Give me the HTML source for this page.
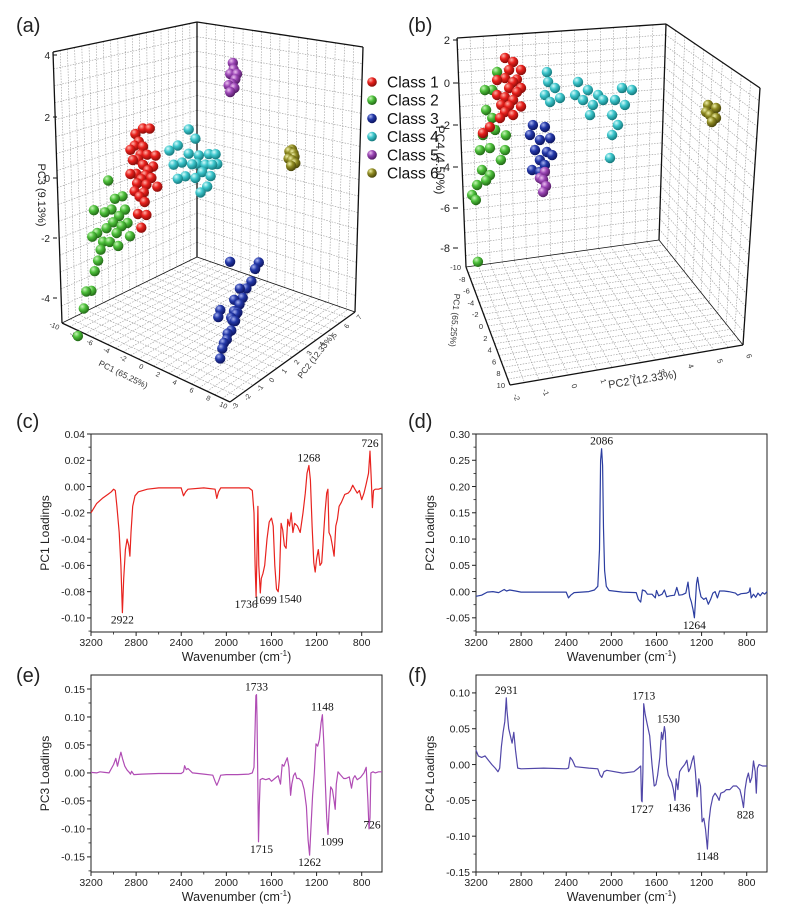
<!DOCTYPE html>
<html><head><meta charset="utf-8">
<style>
html,body{margin:0;padding:0;background:#fff;}
svg{display:block;font-family:"Liberation Sans",Arial,sans-serif;}
.tk{font-size:10.5px;fill:#222;}
.ann{font-family:"Liberation Serif",serif;font-size:11.5px;fill:#111;}
</style></head>
<body>
<svg id="fig" width="800" height="913" viewBox="0 0 800 913" xmlns="http://www.w3.org/2000/svg">
<defs>
 <radialGradient id="g1" cx="35%" cy="30%" r="70%"><stop offset="0" stop-color="#ffb0a8"/><stop offset="0.45" stop-color="#e8201c"/><stop offset="1" stop-color="#8a0d0a"/></radialGradient>
 <radialGradient id="g2" cx="35%" cy="30%" r="70%"><stop offset="0" stop-color="#c8f5b8"/><stop offset="0.45" stop-color="#4cbf3a"/><stop offset="1" stop-color="#236a17"/></radialGradient>
 <radialGradient id="g3" cx="35%" cy="30%" r="70%"><stop offset="0" stop-color="#a9b4f0"/><stop offset="0.45" stop-color="#2338a8"/><stop offset="1" stop-color="#0d1560"/></radialGradient>
 <radialGradient id="g4" cx="35%" cy="30%" r="70%"><stop offset="0" stop-color="#d5fbfb"/><stop offset="0.45" stop-color="#3cc6cc"/><stop offset="1" stop-color="#16797d"/></radialGradient>
 <radialGradient id="g5" cx="35%" cy="30%" r="70%"><stop offset="0" stop-color="#ecc0f0"/><stop offset="0.45" stop-color="#9a45b4"/><stop offset="1" stop-color="#541c66"/></radialGradient>
 <radialGradient id="g6" cx="35%" cy="30%" r="70%"><stop offset="0" stop-color="#f0f0a8"/><stop offset="0.45" stop-color="#8e8a22"/><stop offset="1" stop-color="#4a460a"/></radialGradient>
</defs>
<g id="layer3d"></g>
<g id="layerSpec"></g>
</svg>
<script>
// ================= DATA: 3D scores panel (a) [PC1, PC2, PC3] =================
const classNames = ["Class 1","Class 2","Class 3","Class 4","Class 5","Class 6"];
const aClass1 = [[-6,0,0.8],[-5.5,0,1.0],[-5,0,0.9],[-4.5,0,0.7],[-6.2,0,0.3],[-5.6,0,0.4],[-5,0,0.3],[-4.4,0,0.2],[-3.8,0,0.4],[-6.5,0,-0.2],[-5.8,0,-0.1],[-5.2,0,-0.2],[-4.6,0,-0.3],[-4,0,0],[-6,0,-0.7],[-5.4,0,-0.8],[-4.8,0,-0.9],[-5.6,0,-1.4],[-5,0,1.5],[-4.2,0,1.6],[-3.5,0,0.8],[-6.5,0,0.6],[-5.2,0,-1.8],[-4.6,0,-1.3],[-3.3,0,-0.2],[-5.9,0,1.2],[-5.3,0,0.6],[-4.7,0,0.0],[-5.7,0,-0.4],[-4.9,0,-0.6]];
const aClass2 = [[-10.5,-1,-4.9],[-10.2,-1,-4.3],[-9.6,-1,-4.2],[-9.2,-1,-3.5],[-8.8,-1,-3.1],[-8.5,-1,-2.7],[-8.9,-1,-2.2],[-8.2,-1,-2.4],[-7.8,-1,-1.9],[-7.4,-1,-2.3],[-7,-1,-1.6],[-6.6,-1,-1.9],[-6.3,-1,-1.3],[-6,-1,-1.6],[-5.6,-1,-1.0],[-5.3,-1,-1.4],[-5.9,-1,-0.6],[-6.8,-1,-0.8],[-7.2,-1,-1.2],[-8,-1,-1.4],[-9.3,-1,-1.5],[-9.5,-1,-2.4],[-7.6,-1,-0.3],[-6.4,-1,-2.3],[-5,-1,-1.8],[-11.2,-1,-5.9]];
const aClass3 = [[4.5,-0.2,-4.8],[3.7,0.6,-4.6],[3.2,0.8,-4.9],[2.9,1.4,-4.6],[2.5,1.6,-4.9],[2.1,2.3,-4.5],[1.8,2.4,-4.9],[1.3,3.1,-4.6],[1.0,3.2,-4.9],[0.45,3.9,-4.6],[0.2,3.9,-4.9],[-0.4,4.7,-4.7],[-0.6,4.6,-4.4],[-1.2,5.5,-4.7],[-2,6.4,-4.8],[-2.8,7.2,-4.7],[-3.6,8,-4.8],[1.8,1.4,-4.2],[-0.2,3.6,-3.2],[0.8,2.2,-4.3],[2.4,2.0,-4.3],[1.5,2.8,-4.4],[0.6,3.4,-4.3]];
const aClass4 = [[-6.5,3,-0.2],[-6,3,-0.6],[-5.5,3,0.1],[-5,3,-0.4],[-4.6,3,-0.8],[-4.2,3,0],[-3.8,3,-0.3],[-3.4,3,-0.7],[-3,3,0.1],[-2.6,3,-0.4],[-2.2,3,-0.1],[-1.8,3,0.3],[-1.4,3,0],[-1,3,0.4],[-2,3,-0.8],[-4.2,3,0.8],[-3.4,3,0.6],[-5.5,3,-1],[-0.8,3,0.1],[-2.8,3,-1.1],[-1.6,3,-0.4],[-3.2,3,-0.2]];
const aClass5 = [[-3.9,6,1.9],[-3.5,6,2.1],[-3.7,6,1.6],[-3.3,6,1.8],[-4.1,6,1.5],[-3.6,6,2.3],[-3.9,6,1.3],[-3.4,6,1.5],[-3.1,6,2.0]];
const aClass6 = [[1.6,7,-0.2],[1.9,7,-0.1],[2.2,7,-0.3],[1.5,7,-0.45],[1.9,7,-0.45],[2.3,7,-0.5],[1.8,7,-0.65],[2.1,7,-0.2]];
// ================= DATA: 3D scores panel (b) [PC1, PC2, PC4] =================
const bClass1 = [[-10,-0.66,0.83],[-10,-0.38,0.57],[-10,-0.11,0.12],[-10,-0.93,-0.17],[-10,-0.66,-0.14],[-10,-0.38,-0.4],[-10,-0.11,-0.75],[-10,-0.93,-0.89],[-10,-0.66,-1.06],[-10,-0.38,-1.26],[-10,-0.11,-1.64],[-10,-0.66,-1.77],[-10,-0.38,-1.98],[-10,-0.83,-2.02],[-10,-0.52,0.22],[-10,-0.25,-0.91],[-10,-0.52,-0.65],[-10,-0.79,-1.4],[-10,-1.42,-2.6],[-10,-1.18,-2.37],[-10,-0.52,-1.5],[-10,-0.25,-0.3]];
const bClass2 = [[-10,-0.93,0.22],[-10,-1.1,-0.6],[-10,-1.31,-1.52],[-10,-1.1,-1.95],[-10,-1.42,-2.7],[-10,-1.0,-2.55],[-10,-1.52,-3.4],[-10,-1.18,-3.38],[-10,-0.63,-2.9],[-10,-0.66,-3.6],[-10,-1.45,-4.37],[-10,-1.18,-4.68],[-10,-1.62,-5.05],[-10,-1.31,-4.9],[-10,-1.79,-5.49],[-10,-1.66,-5.76],[-10,-1.59,-8.75],[-10,-1.35,-0.55],[-10,-0.8,-4.04]];
const bClass3 = [[-10,0.3,-2.63],[-10,0.71,-2.82],[-10,0.54,-3.4],[-10,0.89,-3.4],[-10,0.37,-3.85],[-10,0.78,-4.04],[-10,0.54,-4.37],[-10,0.96,-4.23],[-10,0.27,-4.78],[-10,0.54,-4.94],[-10,0.71,-4.65],[-10,0.2,-3.08]];
const bClass4 = [[-10,0.82,-0.68],[-10,1.06,-1.03],[-10,0.71,-1.28],[-10,1.23,-1.55],[-10,0.89,-1.66],[-10,0.78,-0.2],[-10,1.85,-0.93],[-10,2.19,-1.4],[-10,2.54,-1.72],[-10,2.02,-1.84],[-10,2.36,-2.16],[-10,2.71,-2.0],[-10,2.26,-2.62],[-10,1.75,-1.53],[-10,3.36,-1.58],[-10,3.7,-1.76],[-10,3.12,-2.1],[-10,3.46,-2.42],[-10,3.02,-2.8],[-10,3.22,-3.33],[-10,3.02,-3.76],[-10,2.95,-4.85]];
const bClass5 = [[-10,0.71,-4.98],[-10,0.65,-5.35],[-10,0.75,-5.67],[-10,0.65,-5.93],[-10,0.54,-5.23]];
const bClass6 = [[-10,6.32,-3.11],[-10,6.59,-3.32],[-10,6.38,-3.61],[-10,6.59,-3.8],[-10,6.45,-3.96],[-10,6.25,-3.43]];

// ================= DATA: loading spectra [wavenumber, loading] =================
const wnTicks = [3200,2800,2400,2000,1600,1200,800];
const pc1Ticks = [0.04,0.02,0.00,-0.02,-0.04,-0.06,-0.08,-0.10];
const pc2Ticks = [0.30,0.25,0.20,0.15,0.10,0.05,0.00,-0.05];
const pc3Ticks = [0.15,0.10,0.05,0.00,-0.05,-0.10,-0.15];
const pc4Ticks = [0.10,0.05,0.00,-0.05,-0.10,-0.15];
const pc1Loadings = [[3200,-0.020],[3150,-0.013],[3100,-0.009],[3050,-0.006],[3020,-0.004],[3000,-0.002],[2985,-0.003],[2970,-0.015],[2950,-0.035],[2935,-0.06],[2922,-0.096],[2910,-0.07],[2895,-0.048],[2880,-0.040],[2865,-0.045],[2855,-0.053],[2845,-0.035],[2830,-0.015],[2810,-0.007],[2780,-0.004],[2700,-0.002],[2600,-0.001],[2400,-0.001],[2380,-0.007],[2360,-0.004],[2340,-0.002],[2200,-0.001],[2100,-0.002],[2085,-0.009],[2070,-0.004],[2050,-0.001],[1800,-0.001],[1770,-0.003],[1755,-0.02],[1745,-0.06],[1736,-0.084],[1728,-0.05],[1720,-0.015],[1712,-0.06],[1699,-0.081],[1690,-0.07],[1675,-0.066],[1660,-0.06],[1640,-0.04],[1620,-0.027],[1600,-0.024],[1585,-0.03],[1570,-0.06],[1555,-0.078],[1540,-0.08],[1530,-0.07],[1515,-0.028],[1500,-0.033],[1485,-0.045],[1470,-0.047],[1455,-0.025],[1440,-0.03],[1425,-0.02],[1410,-0.035],[1395,-0.028],[1370,-0.03],[1345,-0.035],[1320,-0.02],[1300,-0.005],[1285,0.010],[1268,0.016],[1255,0.005],[1240,-0.03],[1225,-0.058],[1212,-0.065],[1200,-0.055],[1185,-0.048],[1170,-0.06],[1155,-0.058],[1140,-0.04],[1125,-0.02],[1110,-0.005],[1100,-0.002],[1090,-0.035],[1075,-0.038],[1060,-0.045],[1045,-0.053],[1030,-0.03],[1015,-0.025],[1000,-0.015],[980,-0.012],[950,-0.006],[920,-0.005],[900,-0.003],[880,0.001],[860,-0.002],[840,-0.005],[820,-0.003],[800,-0.01],[780,-0.005],[760,0.002],[740,0.010],[726,0.027],[715,0.005],[705,-0.016],[695,-0.003],[680,-0.002],[650,-0.002],[620,-0.001]];
const pc2Loadings = [[3200,-0.009],[3150,-0.007],[3100,-0.001],[3050,0.000],[3000,-0.002],[2950,0.004],[2930,0.001],[2900,0.003],[2850,0.001],[2800,-0.001],[2600,-0.001],[2400,-0.001],[2380,-0.012],[2360,-0.007],[2330,-0.002],[2200,0.000],[2150,0.003],[2120,0.01],[2105,0.08],[2095,0.25],[2086,0.272],[2078,0.24],[2070,0.12],[2060,0.04],[2045,0.01],[2020,0.002],[1900,-0.001],[1780,-0.002],[1760,-0.015],[1740,-0.02],[1725,0.003],[1700,0.001],[1680,-0.005],[1640,-0.005],[1610,-0.012],[1600,0.002],[1580,-0.008],[1550,-0.005],[1530,0.003],[1510,-0.01],[1480,-0.008],[1440,-0.007],[1420,0.008],[1400,-0.007],[1370,-0.006],[1340,-0.003],[1320,0.018],[1305,-0.01],[1290,-0.02],[1275,-0.035],[1264,-0.05],[1255,-0.02],[1245,0.015],[1235,0.027],[1220,0.005],[1205,-0.01],[1180,-0.015],[1160,-0.012],[1140,-0.024],[1120,-0.015],[1100,-0.003],[1080,0.000],[1060,-0.012],[1040,0.001],[1000,0.001],[960,0.000],[900,-0.003],[880,-0.007],[850,-0.004],[800,-0.003],[780,-0.001],[770,0.007],[760,-0.012],[740,-0.005],[720,-0.011],[700,-0.003],[680,-0.008],[660,-0.002],[640,-0.005],[620,0.000]];
const pc3Loadings = [[3200,0.001],[3150,0.0],[3120,0.002],[3080,0.001],[3040,0.000],[3000,0.015],[2980,0.026],[2965,0.012],[2950,0.025],[2935,0.037],[2920,0.025],[2900,0.012],[2880,0.005],[2860,0.001],[2850,-0.002],[2840,0.003],[2820,-0.003],[2750,-0.002],[2600,-0.001],[2400,-0.001],[2380,0.002],[2370,0.013],[2355,0.006],[2340,0.008],[2300,0.0],[2200,-0.002],[2120,-0.004],[2100,-0.015],[2085,-0.022],[2070,-0.015],[2050,-0.004],[2000,-0.003],[1900,-0.003],[1800,-0.002],[1770,0.000],[1755,0.01],[1745,0.08],[1738,0.138],[1733,0.14],[1728,0.10],[1722,0.0],[1715,-0.123],[1708,-0.06],[1700,-0.012],[1680,-0.01],[1650,-0.012],[1620,-0.01],[1600,-0.015],[1570,-0.01],[1540,-0.005],[1520,-0.02],[1505,0.015],[1490,0.012],[1475,0.02],[1460,0.027],[1445,0.01],[1430,-0.04],[1420,-0.02],[1405,-0.005],[1390,0.0],[1375,-0.01],[1355,-0.01],[1330,-0.015],[1310,-0.03],[1290,-0.06],[1275,-0.12],[1262,-0.147],[1250,-0.1],[1235,-0.04],[1220,0.0],[1205,0.052],[1190,0.048],[1175,0.06],[1160,0.09],[1148,0.104],[1135,0.05],[1120,-0.03],[1110,-0.08],[1099,-0.11],[1090,-0.07],[1075,-0.025],[1060,-0.03],[1045,-0.05],[1035,-0.065],[1025,-0.02],[1010,0.002],[990,-0.003],[960,-0.01],[940,-0.01],[910,-0.007],[890,-0.027],[875,-0.01],[860,-0.005],[840,-0.012],[810,-0.008],[780,0.0],[760,0.01],[745,-0.05],[735,-0.1],[726,-0.08],[718,0.0],[700,0.002],[680,0.0],[650,0.002],[620,0.002]];
const pc4Loadings = [[3200,0.02],[3180,0.012],[3150,0.01],[3120,0.012],[3090,0.006],[3060,0.0],[3030,-0.005],[3005,-0.01],[2990,-0.005],[2975,0.025],[2960,0.045],[2945,0.06],[2931,0.093],[2925,0.075],[2910,0.05],[2895,0.04],[2880,0.03],[2865,0.045],[2850,0.02],[2830,-0.005],[2800,-0.006],[2600,-0.005],[2400,-0.006],[2380,-0.005],[2365,0.01],[2345,0.006],[2320,-0.003],[2200,-0.005],[2120,-0.006],[2100,-0.015],[2085,-0.018],[2065,-0.01],[2040,-0.008],[1900,-0.012],[1800,-0.01],[1760,-0.005],[1740,-0.002],[1733,-0.05],[1727,-0.052],[1720,-0.01],[1713,0.085],[1700,0.07],[1680,0.055],[1660,0.04],[1640,0.0],[1620,-0.03],[1605,-0.028],[1590,-0.015],[1570,0.01],[1555,0.045],[1545,0.035],[1530,0.053],[1522,0.045],[1510,0.0],[1495,-0.015],[1480,-0.02],[1465,-0.025],[1450,-0.035],[1436,-0.05],[1425,-0.02],[1410,-0.035],[1395,-0.01],[1375,-0.005],[1350,0.0],[1330,0.006],[1315,-0.01],[1300,-0.005],[1285,0.005],[1270,0.012],[1255,-0.01],[1240,-0.045],[1225,-0.02],[1210,-0.03],[1195,-0.08],[1180,-0.075],[1165,-0.09],[1148,-0.118],[1135,-0.08],[1120,-0.06],[1100,-0.045],[1080,-0.04],[1060,-0.045],[1045,-0.05],[1030,-0.04],[1000,-0.038],[980,-0.035],[950,-0.035],[920,-0.03],[890,-0.03],[860,-0.035],[845,-0.045],[828,-0.06],[815,-0.035],[800,-0.02],[785,-0.012],[770,-0.025],[755,-0.018],[740,0.005],[725,-0.01],[715,-0.04],[705,-0.005],[690,0.0],[660,-0.002],[620,-0.002]];
const pc1Peaks = [[2922,"2922"],[1736,"1736"],[1699,"1699"],[1540,"1540"],[1268,"1268"],[726,"726"]];
const pc2Peaks = [[2086,"2086"],[1264,"1264"]];
const pc3Peaks = [[1733,"1733"],[1715,"1715"],[1262,"1262"],[1148,"1148"],[1099,"1099"],[726,"726"]];
const pc4Peaks = [[2931,"2931"],[1713,"1713"],[1530,"1530"],[1727,"1727"],[1436,"1436"],[1148,"1148"],[828,"828"]];

const NS = "http://www.w3.org/2000/svg";
function mk(parent, tag, attrs, text){
  const e = document.createElementNS(NS, tag);
  for (const k in attrs) e.setAttribute(k, attrs[k]);
  if (text !== undefined) e.textContent = text;
  parent.appendChild(e);
  return e;
}
const L3 = document.getElementById('layer3d');
const LS = document.getElementById('layerSpec');

[["(a)",16,32],["(b)",408,32],["(c)",16,428],["(d)",408,428],["(e)",16,682],["(f)",408,682]].forEach(p=>{
  const t = mk(L3,'text',{x:p[1],y:p[2],'font-size':20,fill:'#222'},p[0]);
  
  
});

function lerp(p,q,t){return [p[0]+(q[0]-p[0])*t, p[1]+(q[1]-p[1])*t];}
function wall(parent, c, nu, nv, name){
  const g = mk(parent,'g',{});
  
  
  mk(g,'polygon',{points:c.map(p=>p.join(',')).join(' '),fill:'#fff',stroke:'none'});
  for(let i=1;i<nu;i++){const t=i/nu;const a=lerp(c[0],c[1],t),b=lerp(c[3],c[2],t);
    mk(g,'line',{x1:a[0],y1:a[1],x2:b[0],y2:b[1],stroke:'#9a9a9a','stroke-width':0.6,'stroke-dasharray':'1.5,1.3'});}
  for(let j=1;j<nv;j++){const t=j/nv;const a=lerp(c[0],c[3],t),b=lerp(c[1],c[2],t);
    mk(g,'line',{x1:a[0],y1:a[1],x2:b[0],y2:b[1],stroke:'#9a9a9a','stroke-width':0.6,'stroke-dasharray':'1.5,1.3'});}
  return g;
}
function edge(parent,p,q,w){mk(parent,'line',{x1:p[0],y1:p[1],x2:q[0],y2:q[1],stroke:'#111','stroke-width':w||1.3});}
function spheres(parent, pts, proj, cls, r, panel){
  const g = mk(parent,'g',{});
  
  
  const sc = pts.map(proj).sort((u,v)=>u[1]-v[1]);
  sc.forEach(s=>{
    const c = mk(g,'circle',{cx:s[0].toFixed(1),cy:s[1].toFixed(1),r:r,fill:'url(#g'+(cls+1)+')'});
    
    
  });
}

function projA(p){const a=p[0],b=p[1],c=p[2];
  return [62+(a+10)*8.4+(b+3)*13, 323+(a+10)*3.95-(b+3)*7.8-(c+4.8)*30.3];}
(function(){
  const g = mk(L3,'g',{});
  
  
  const TL=[53,52],TB=[197,22],BB=[197,257],BL=[62,323],TR=[363,47],BR=[355,312],F=[230,402];
  wall(g,[TL,TB,BB,BL],20,16,'panel-a-left-wall');
  wall(g,[TB,TR,BR,BB],18,16,'panel-a-right-wall');
  wall(g,[BL,BB,BR,F],16,22,'panel-a-floor');
  edge(g,TL,TB);edge(g,TB,TR);edge(g,TB,BB);edge(g,TL,BL);edge(g,TR,BR);edge(g,BL,F);edge(g,F,BR);edge(g,BL,BB,0.8);edge(g,BB,BR,0.8);
  const zt=[["4",55],["2",117],["0",178],["-2",238],["-4",298]];
  zt.forEach(z=>{
    const t=mk(g,'text',{x:50,y:z[1]+4,'text-anchor':'end','font-size':10,fill:'#222'},z[0]);
    
    mk(g,'line',{x1:53,y1:z[1],x2:57,y2:z[1],stroke:'#111','stroke-width':1});
  });
  const t3=mk(g,'text',{x:0,y:0,'font-size':11,fill:'#222','text-anchor':'middle',transform:'translate(38,195) rotate(90)'},"PC3 (9.13%)");
  
  const pc1L=["-10","-8","-6","-4","-2","0","2","4","6","8","10"];
  pc1L.forEach((s,i)=>{const p=lerp(BL,F,i/10);
    const t=mk(g,'text',{x:0,y:0,'font-size':7,fill:'#333','text-anchor':'end',transform:`translate(${p[0]-4},${p[1]+7}) rotate(25)`},s);
    });
  const tt1=mk(g,'text',{x:0,y:0,'font-size':8.5,fill:'#333','text-anchor':'middle',transform:'translate(122,377) rotate(26)'},"PC1 (65.25%)");
  
  const pc2L=["-3","-2","-1","0","1","2","3","4","5","6","7"];
  pc2L.forEach((s,i)=>{const p=lerp(F,BR,i/10);
    const t=mk(g,'text',{x:0,y:0,'font-size':7,fill:'#333',transform:`translate(${p[0]+5},${p[1]+8}) rotate(-55)`},s);
    });
  const tt2=mk(g,'text',{x:0,y:0,'font-size':8.5,fill:'#333','text-anchor':'middle',transform:'translate(318,358) rotate(-52)'},"PC2 (12.33%)");
  
  [aClass3,aClass2,aClass1,aClass4,aClass5,aClass6].forEach((d,k)=>{
    const idx=[2,1,0,3,4,5][k]; spheres(g,d,projA,idx,5.2,'panel-a');});
  const lg = mk(g,'g',{});
  
  
  classNames.forEach((n,i)=>{
    const y=82+i*18.2;
    const e=mk(lg,'g',{});
    
    
    mk(e,'circle',{cx:372,cy:y,r:4.8,fill:'url(#g'+(i+1)+')'});
    mk(e,'text',{x:387,y:y+5.5,'font-size':15.5,fill:'#111'},n);
  });
})();

function projB(p){const a=p[0],b=p[1],d=p[2];
  return [466+(a+10)*2.2+(b+2)*29.1, 267+(a+10)*5.9-(b+2)*5-(d+8.9)*20.8];}
(function(){
  const g = mk(L3,'g',{});
  
  
  const TL=[457,38],TB=[666,24],BB=[659,240],BL=[466,267],TR=[760,88],BR=[743,345],F=[510,385];
  wall(g,[TL,TB,BB,BL],16,20,'panel-b-back-wall');
  wall(g,[TB,TR,BR,BB],10,20,'panel-b-right-wall');
  wall(g,[BL,BB,BR,F],16,20,'panel-b-floor');
  edge(g,TL,TB);edge(g,TB,TR);edge(g,TB,BB);edge(g,TL,BL);edge(g,TR,BR);edge(g,BL,F);edge(g,F,BR);edge(g,BL,BB,0.8);edge(g,BB,BR,0.8);
  const yt=[["2",40],["0",83],["-2",125],["-4",167],["-6",208],["-8",248]];
  yt.forEach(z=>{
    const t=mk(g,'text',{x:450,y:z[1]+4,'text-anchor':'end','font-size':11,fill:'#222'},z[0]);
    
    mk(g,'line',{x1:453,y1:z[1],x2:458,y2:z[1],stroke:'#111','stroke-width':1});
  });
  const t4=mk(g,'text',{x:0,y:0,'font-size':12,fill:'#222','text-anchor':'middle',transform:'translate(436,160) rotate(90)'},"PC4 (4.50%)");
  
  const pc1L=["-10","-8","-6","-4","-2","0","2","4","6","8","10"];
  pc1L.forEach((s,i)=>{const p=lerp(BL,F,i/10);
    const t=mk(g,'text',{x:p[0]-5,y:p[1]+3,'font-size':7.5,fill:'#333','text-anchor':'end'},s);
    });
  const tt1=mk(g,'text',{x:0,y:0,'font-size':8.5,fill:'#333','text-anchor':'middle',transform:'translate(452,320) rotate(95)'},"PC1 (65.25%)");
  
  const pc2L=["-2","-1","0","1","2","3","4","5","6"];
  pc2L.forEach((s,i)=>{const p=lerp(F,BR,i/8);
    const t=mk(g,'text',{x:0,y:0,'font-size':7.5,fill:'#333',transform:`translate(${p[0]+3},${p[1]+10}) rotate(70)`},s);
    });
  const tt2=mk(g,'text',{x:0,y:0,'font-size':11,fill:'#333','text-anchor':'middle',transform:'translate(643,383) rotate(-9)'},"PC2 (12.33%)");
  
  [bClass2,bClass1,bClass3,bClass5,bClass4,bClass6].forEach((d,k)=>{
    const idx=[1,0,2,4,3,5][k]; spheres(g,d,projB,idx,5.2,'panel-b');});
})();

function spectrum(cfg){
  const g = mk(LS,'g',{});
  
  
  const X = w => cfg.x0 + (3200-w)/(3200-620)*(cfg.x1-cfg.x0);
  const Y = v => cfg.y0 + (cfg.ymax - v)/(cfg.ymax-cfg.ymin)*(cfg.y1-cfg.y0);
  const fr=mk(g,'rect',{x:cfg.x0,y:cfg.y0,width:cfg.x1-cfg.x0,height:cfg.y1-cfg.y0,fill:'none',stroke:'#222','stroke-width':1});
  
  wnTicks.forEach(w=>{
    const x=X(w);
    mk(g,'line',{x1:x,y1:cfg.y1,x2:x,y2:cfg.y1+4,stroke:'#222','stroke-width':1});
    const t=mk(g,'text',{x:x,y:cfg.y1+14,'text-anchor':'middle',class:'tk'},String(w));
    
    if (w-200>=620) {const xm=X(w-200); mk(g,'line',{x1:xm,y1:cfg.y1,x2:xm,y2:cfg.y1+2.5,stroke:'#222','stroke-width':0.8});}
  });
  const step = cfg.ticks[0]-cfg.ticks[1];
  cfg.ticks.forEach(v=>{
    const y=Y(v);
    mk(g,'line',{x1:cfg.x0-4,y1:y,x2:cfg.x0,y2:y,stroke:'#222','stroke-width':1});
    const t=mk(g,'text',{x:cfg.x0-6,y:y+3.8,'text-anchor':'end',class:'tk'},v.toFixed(2));
    
    const vm=v-step/2; if (vm>cfg.ymin){const ym=Y(vm); mk(g,'line',{x1:cfg.x0-2.5,y1:ym,x2:cfg.x0,y2:ym,stroke:'#222','stroke-width':0.8});}
  });
  const xt=mk(g,'text',{x:(cfg.x0+cfg.x1)/2,y:cfg.y1+29,'text-anchor':'middle','font-size':12.5,fill:'#222'},"Wavenumber (cm");
  mk(xt,'tspan',{'font-size':8,dy:-5},"-1");
  mk(xt,'tspan',{dy:5},")");
  
  const yc=(cfg.y0+cfg.y1)/2;
  const yt=mk(g,'text',{x:0,y:0,'text-anchor':'middle','font-size':12,fill:'#222',transform:`translate(${cfg.x0-42},${yc}) rotate(-90)`},cfg.ylabel);
  
  const d = cfg.data.map((p,i)=>(i?'L':'M')+X(p[0]).toFixed(1)+','+Y(p[1]).toFixed(1)).join(' ');
  const path=mk(g,'path',{d:d,fill:'none',stroke:cfg.color,'stroke-width':1.2,'stroke-linejoin':'round'});
  
  cfg.peaks.forEach(pk=>{
    let best = cfg.data[0];
    cfg.data.forEach(p=>{ if (Math.abs(p[0]-pk[0]) < Math.abs(best[0]-pk[0])) best = p; });
    const v = best[1];
    const up = v>0;
    const dx = (cfg.dx && cfg.dx[pk[1]]) || 0;
    const y = up ? Y(v)-4 : Y(v)+11;
    const t=mk(g,'text',{x:X(pk[0])+dx,y:y,'text-anchor':'middle',class:'ann'},pk[1]);
    
  });
}
spectrum({name:'panel-c-pc1-loadings',x0:91,x1:382,y0:434,y1:632,ymax:0.04,ymin:-0.1107,ticks:pc1Ticks,data:pc1Loadings,color:'#e8231f',ylabel:'PC1 Loadings',peaks:pc1Peaks,dx:{"1736":-10,"1699":5,"1540":12}});
spectrum({name:'panel-d-pc2-loadings',x0:476,x1:767,y0:434,y1:632,ymax:0.30,ymin:-0.077,ticks:pc2Ticks,data:pc2Loadings,color:'#2b3da0',ylabel:'PC2 Loadings',peaks:pc2Peaks,dx:{}});
spectrum({name:'panel-e-pc3-loadings',x0:91,x1:382,y0:675,y1:872,ymax:0.175,ymin:-0.177,ticks:pc3Ticks,data:pc3Loadings,color:'#b04cb4',ylabel:'PC3 Loadings',peaks:pc3Peaks,dx:{"1715":3,"1099":4,"726":2}});
spectrum({name:'panel-f-pc4-loadings',x0:476,x1:767,y0:675,y1:872,ymax:0.125,ymin:-0.15,ticks:pc4Ticks,data:pc4Loadings,color:'#5147a8',ylabel:'PC4 Loadings',peaks:pc4Peaks,dx:{"1530":4,"1436":4,"828":2}});
</script>
</body></html>
